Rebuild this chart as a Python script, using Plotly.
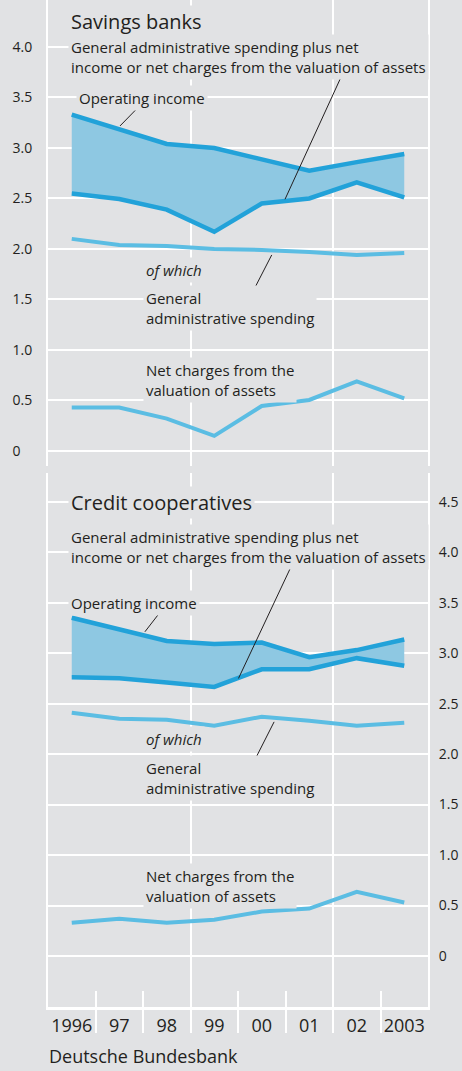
import plotly.graph_objects as go

years = [1996, 1997, 1998, 1999, 2000, 2001, 2002, 2003]
year_labels = ["1996", "97", "98", "99", "00", "01", "02", "2003"]

# Savings banks (% of average balance sheet total)
sb_operating_income = [3.33, 3.19, 3.04, 3.00, 2.89, 2.775, 2.86, 2.94]
sb_admin_plus_valuation = [2.55, 2.495, 2.39, 2.17, 2.45, 2.50, 2.66, 2.51]
sb_admin_spending = [2.10, 2.04, 2.03, 2.00, 1.99, 1.97, 1.94, 1.96]
sb_net_valuation = [0.43, 0.43, 0.32, 0.15, 0.445, 0.505, 0.69, 0.52]

# Credit cooperatives
cc_operating_income = [3.35, 3.235, 3.12, 3.09, 3.105, 2.96, 3.03, 3.135]
cc_admin_plus_valuation = [2.76, 2.75, 2.71, 2.665, 2.84, 2.84, 2.95, 2.875]
cc_admin_spending = [2.41, 2.35, 2.34, 2.28, 2.37, 2.33, 2.28, 2.31]
cc_net_valuation = [0.33, 0.37, 0.33, 0.36, 0.44, 0.47, 0.635, 0.53]

y_ticks = [0, 0.5, 1.0, 1.5, 2.0, 2.5, 3.0, 3.5, 4.0]
y_ticktext_left = ["0\u2008\u2007", "0.5", "1.0", "1.5", "2.0", "2.5", "3.0", "3.5", "4.0"]
y_ticks_right = [0, 0.5, 1.0, 1.5, 2.0, 2.5, 3.0, 3.5, 4.0, 4.5]
y_ticktext_right = ["0", "0.5", "1.0", "1.5", "2.0", "2.5", "3.0", "3.5", "4.0", "4.5"]
boundaries = [1996.5, 1997.5, 1998.5, 1999.5, 2000.5, 2001.5, 2002.5]
grid_x = [1998.5, 2001.5]

BG = "#e1e2e4"
FILL = "#8ec8e2"
DARK = "#22a2d9"
LIGHT = "#5bbde3"
TXT = "#231f20"
FONT = "Open Sans"

fig = go.Figure()


def panel(xa, ya, upper, lower, admin, net):
    fig.add_trace(go.Scatter(x=years, y=lower, mode="lines", line=dict(width=0, color=FILL),
                             xaxis=xa, yaxis=ya, hoverinfo="skip", showlegend=False))
    fig.add_trace(go.Scatter(x=years, y=upper, mode="lines", line=dict(width=0, color=FILL),
                             fill="tonexty", fillcolor=FILL,
                             xaxis=xa, yaxis=ya, hoverinfo="skip", showlegend=False))
    for series, col, w in [(upper, DARK, 4.5), (lower, DARK, 4.5), (admin, LIGHT, 4), (net, LIGHT, 4)]:
        fig.add_trace(go.Scatter(x=years, y=series, mode="lines",
                                 line=dict(width=w, color=col, shape="linear"),
                                 xaxis=xa, yaxis=ya, showlegend=False))


panel("x2", "y2", sb_operating_income, sb_admin_plus_valuation, sb_admin_spending, sb_net_valuation)
panel("x", "y", cc_operating_income, cc_admin_plus_valuation, cc_admin_spending, cc_net_valuation)

# dummy traces so overlay axes get drawn
for ax in ["x3", "x4", "x5"]:
    fig.add_trace(go.Scatter(x=[None], y=[None], xaxis=ax, yaxis="y", showlegend=False, hoverinfo="skip"))

XR = [1995.5, 2003.5]

fig.update_layout(
    width=462, height=1071,
    margin=dict(l=48, r=34, t=0, b=64),
    paper_bgcolor=BG, plot_bgcolor=BG,
    font=dict(family=FONT, color=TXT),
    showlegend=False,
    # bottom panel (credit cooperatives)
    xaxis=dict(domain=[0, 1], anchor="y", range=XR, tickmode="array", tickvals=years,
               ticktext=year_labels, showgrid=False, zeroline=False,
               showline=True, linecolor="white", linewidth=2.5,
               ticks="outside", ticklen=1, tickcolor="rgba(0,0,0,0)",
               tickfont=dict(size=18, family=FONT, color=TXT)),
    xaxis3=dict(overlaying="x", anchor="y", range=XR, tickmode="array", tickvals=boundaries,
                showticklabels=False, showgrid=False, zeroline=False, showline=False,
                ticks="outside", ticklen=25, tickwidth=2, tickcolor="white"),
    xaxis4=dict(overlaying="x", anchor="y", range=XR, tickmode="array", tickvals=boundaries,
                showticklabels=False, showgrid=False, zeroline=False, showline=False,
                ticks="inside", ticklen=16, tickwidth=2, tickcolor="white"),
    xaxis5=dict(overlaying="x", anchor="y", range=XR, tickmode="array", tickvals=grid_x,
                showticklabels=False, showgrid=True, gridcolor="white", gridwidth=2,
                zeroline=False, showline=False, ticks=""),
    yaxis=dict(domain=[0, 0.5303], anchor="x", side="right", range=[-0.505, 4.784],
               tickmode="array", tickvals=y_ticks_right, ticktext=y_ticktext_right,
               showgrid=True, gridcolor="white", gridwidth=2, zeroline=False,
               showline=True, mirror=True, linecolor="white", linewidth=2,
               ticks="outside", ticklen=6, tickcolor="rgba(0,0,0,0)",
               tickfont=dict(size=14, family=FONT, color=TXT)),
    # top panel (savings banks)
    xaxis2=dict(domain=[0, 1], anchor="y2", range=XR, tickmode="array", tickvals=grid_x,
                showticklabels=False, showgrid=True, gridcolor="white", gridwidth=2,
                zeroline=False, showline=False, ticks=""),
    yaxis2=dict(domain=[0.5372, 1], anchor="x2", side="left", range=[-0.149, 4.465],
                tickmode="array", tickvals=y_ticks, ticktext=y_ticktext_left,
                showgrid=True, gridcolor="white", gridwidth=2, zeroline=False,
                showline=True, mirror=True, linecolor="white", linewidth=2,
                ticks="outside", ticklen=11, tickcolor="rgba(0,0,0,0)",
                tickfont=dict(size=14, family=FONT, color=TXT)),
)


def note(text, x, y, xa, ya, size=15, italic=False):
    if italic:
        text = "<i>" + text + "</i>"
    fig.add_annotation(text=text, x=x, y=y, xref=xa, yref=ya, xanchor="left", yanchor="middle",
                       showarrow=False, align="left", bgcolor=BG, borderpad=2,
                       font=dict(size=size, family=FONT, color=TXT))


def leader(x0, y0, x1, y1, xa, ya):
    fig.add_shape(type="line", x0=x0, y0=y0, x1=x1, y1=y1, xref=xa, yref=ya,
                  line=dict(color=TXT, width=1))


# Savings banks annotations
note("Savings banks", 1995.92, 4.248, "x2", "y2", size=20)
note("General administrative spending plus net<br>income or net charges from the valuation of assets",
     1995.92, 3.90, "x2", "y2")
note("Operating income", 1996.09, 3.498, "x2", "y2")
note("of which", 1997.5, 1.792, "x2", "y2", italic=True)
note("General<br>administrative spending", 1997.5, 1.413, "x2", "y2")
note("Net charges from the<br>valuation of assets", 1997.5, 0.70, "x2", "y2")
leader(1997.40, 3.403, 1997.016, 3.218, "x2", "y2")
leader(2001.68, 3.713, 2000.49, 2.492, "x2", "y2")
leader(1999.65, 1.429, 2000.21, 1.941, "x2", "y2")

# Credit cooperatives annotations
note("Credit cooperatives", 1995.92, 4.494, "x", "y", size=20)
note("General administrative spending plus net<br>income or net charges from the valuation of assets",
     1995.92, 4.048, "x", "y")
note("Operating income", 1995.92, 3.493, "x", "y")
note("of which", 1997.5, 2.145, "x", "y", italic=True)
note("General<br>administrative spending", 1997.5, 1.763, "x", "y")
note("Net charges from the<br>valuation of assets", 1997.5, 0.691, "x", "y")
leader(1997.84, 3.393, 1997.54, 3.211, "x", "y")
leader(2000.61, 3.849, 1999.51, 2.749, "x", "y")
leader(1999.68, 1.781, 2000.26, 2.319, "x", "y")

fig.add_annotation(text="Deutsche Bundesbank", xref="paper", yref="paper",
                   x=0, y=(1071 - 64 - 1069) / 1007, xanchor="left", yanchor="bottom",
                   showarrow=False, borderpad=0, font=dict(size=18, family=FONT, color=TXT))

fig.write_html("out.html", config={"displayModeBar": False},
               post_script="document.body.style.margin='0';document.body.style.overflow='hidden';")
